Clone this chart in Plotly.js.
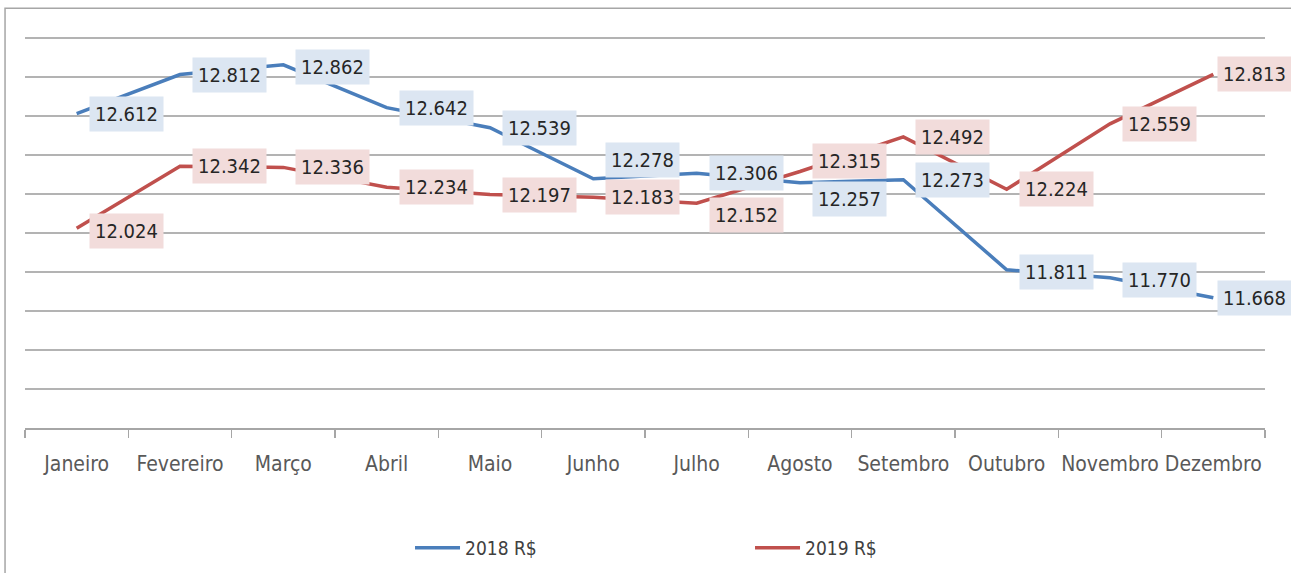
<!DOCTYPE html>
<html>
<head>
<meta charset="utf-8">
<script src="https://cdn.plot.ly/plotly-3.0.1.min.js"></script>
<style>
html,body{margin:0;padding:0;background:#fff;}
#chart{width:1291px;height:573px;}
</style>
</head>
<body>
<div id="chart"></div>
<script>
// ---- data ----
const months = ['Janeiro','Fevereiro','Março','Abril','Maio','Junho','Julho','Agosto','Setembro','Outubro','Novembro','Dezembro'];
const series2018 = [12.612,12.812,12.862,12.642,12.539,12.278,12.306,12.257,12.273,11.811,11.770,11.668];
const series2019 = [12.024,12.342,12.336,12.234,12.197,12.183,12.152,12.315,12.492,12.224,12.559,12.813];
const seriesNames = ['2018 R$','2019 R$'];

// ---- style ----
const FONT = '"DejaVu Sans Condensed", "DejaVu Sans", sans-serif';
const BLUE = '#4a7ebb', RED = '#c0504d';
const BLUE_BG = '#dce6f2', RED_BG = '#f2dcdb';
// label nudges (px): vertical (positive = up) and horizontal offset from the point
const shift2018 = [0,0,-2,0,0,19,0,-16,0,-2,-2,0];
const shift2019 = [-3,0,0,0,0,0,-12,10,0,0,0,0];
const xOffsets  = [12,12,12,12,12,12,12,12,12,12,12,4];

const traces = [
  {x: months, y: series2018, name: seriesNames[0], type: 'scatter', mode: 'lines',
   line: {color: BLUE, width: 3.5}},
  {x: months, y: series2019, name: seriesNames[1], type: 'scatter', mode: 'lines',
   line: {color: RED, width: 3.5}}
];

function labels(vals, shifts, bg) {
  return vals.map((v, i) => ({
    x: months[i], y: v, xref: 'x', yref: 'y',
    text: v.toFixed(3), showarrow: false,
    xanchor: 'left', yanchor: 'middle', xshift: xOffsets[i], yshift: shifts[i],
    bgcolor: bg, borderpad: 5,
    font: {family: FONT, size: 20, color: '#262626'}
  }));
}

const layout = {
  width: 1291, height: 573,
  margin: {l: 25, r: 26, t: 32, b: 145, autoexpand: false},
  paper_bgcolor: '#ffffff', plot_bgcolor: '#ffffff',
  font: {family: FONT, color: '#595959'},
  showlegend: true,
  legend: {orientation: 'h', x: 0.3105, xanchor: 'left', y: -0.303, yanchor: 'middle',
           font: {family: FONT, size: 19, color: '#404040'},
           itemwidth: 45, entrywidth: 280, entrywidthmode: 'pixels',
           bgcolor: 'rgba(0,0,0,0)'},
  xaxis: {type: 'category', range: [-0.5, 11.5], tickson: 'boundaries', ticks: 'outside', ticklen: 8,
          tickcolor: '#a6a6a6', tickwidth: 1.5, showline: true, linecolor: '#a6a6a6', linewidth: 1.5,
          showgrid: false, zeroline: false, ticklabelstandoff: 16, tickangle: 0,
          tickfont: {family: FONT, size: 21, color: '#595959'}, fixedrange: true},
  yaxis: {range: [11, 13.03], dtick: 0.2, tick0: 11, showticklabels: false, ticks: '',
          showgrid: true, gridcolor: '#b3b3b3', gridwidth: 1.5, zeroline: false, showline: false,
          fixedrange: true},
  shapes: [
    {type: 'rect', xref: 'paper', yref: 'paper', x0: -0.0161, x1: 1.05, y0: -0.5, y1: 1.06,
     line: {color: '#a6a6a6', width: 1.5}, fillcolor: 'rgba(0,0,0,0)', layer: 'below'}
  ],
  annotations: labels(series2018, shift2018, BLUE_BG).concat(labels(series2019, shift2019, RED_BG))
};

Plotly.newPlot('chart', traces, layout, {displayModeBar: false, staticPlot: true});
</script>
</body>
</html>
